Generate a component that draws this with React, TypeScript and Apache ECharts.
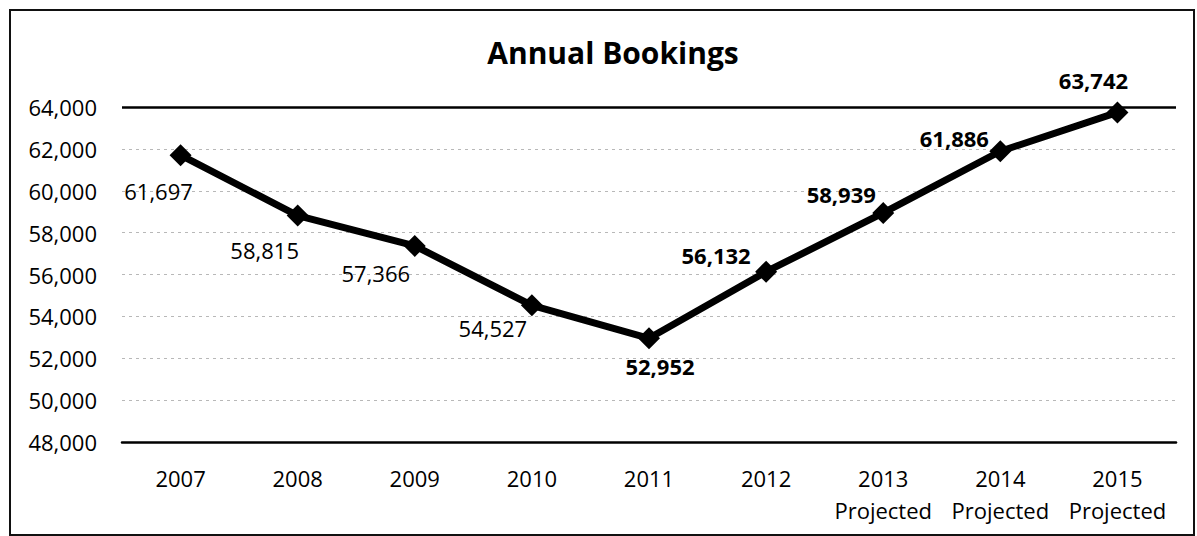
import React, { useEffect, useRef } from "react";
import * as echarts from "echarts";

const categories = ["2007", "2008", "2009", "2010", "2011", "2012", "2013\nProjected", "2014\nProjected", "2015\nProjected"];
const bookings = [61697, 58815, 57366, 54527, 52952, 56132, 58939, 61886, 63742];
const boldLabel = [false, false, false, false, true, true, true, true, true];
const labelOffsets: [number, number][] = [
  [-22, 36], [-33, 34], [-39, 27], [-39, 23], [11, 28], [-50, -17], [-42, -19], [-46, -13], [-24, -32],
];

const FONT = "'Open Sans', 'DejaVu Sans', sans-serif";

export default function App() {
  const ref = useRef<HTMLDivElement>(null);
  useEffect(() => {
    if (!ref.current) return;
    const chart = echarts.init(ref.current, undefined, { renderer: "svg" });
    chart.setOption({
      animation: false,
      backgroundColor: "#ffffff",
      title: {
        text: "Annual Bookings",
        left: 608,
        textAlign: "center",
        top: 32,
        textStyle: { fontFamily: FONT, fontSize: 30, fontWeight: "bold", color: "#000" },
      },
      graphic: [
        {
          type: "rect",
          shape: { x: 10, y: 10, width: 1184, height: 525 },
          style: { fill: "none", stroke: "#111", lineWidth: 2 },
          silent: true,
        },
      ],
      grid: { left: 122, right: 21, top: 107, bottom: 94 },
      xAxis: {
        type: "category",
        data: categories,
        boundaryGap: true,
        axisLine: { lineStyle: { color: "#000", width: 2.5 } },
        axisTick: { show: false },
        axisLabel: {
          fontFamily: FONT,
          fontSize: 22,
          color: "#000",
          margin: 20,
          lineHeight: 32,
          interval: 0,
        },
      },
      yAxis: {
        type: "value",
        min: 48000,
        max: 64000,
        interval: 2000,
        axisLine: { show: false },
        axisTick: { show: false },
        splitLine: { lineStyle: { color: "#b8b8b8", type: [3, 4], width: 1 } },
        axisLabel: {
          fontFamily: FONT,
          fontSize: 22,
          color: "#000",
          margin: 25,
          formatter: (v: number) => v.toLocaleString("en-US"),
        },
      },
      series: [
        {
          type: "line",
          data: bookings.map((v, i) => ({
            value: v,
            label: {
              show: true,
              position: "inside",
              offset: labelOffsets[i],
              fontWeight: boldLabel[i] ? "bold" : "normal",
            },
          })),
          symbol: "diamond",
          symbolSize: 22,
          lineStyle: { color: "#000", width: 7 },
          itemStyle: { color: "#000" },
          label: {
            fontFamily: FONT,
            fontSize: 22,
            color: "#000",
            formatter: (p: any) => Number(p.value).toLocaleString("en-US"),
          },
          markLine: {
            silent: true,
            symbol: "none",
            label: { show: false },
            lineStyle: { color: "#000", width: 2.5, type: "solid" },
            data: [{ yAxis: 64000 }],
          },
        },
      ],
    });
    return () => chart.dispose();
  }, []);
  return <div ref={ref} style={{ width: 1197, height: 536, position: "absolute", left: 0, top: 0 }} />;
}
